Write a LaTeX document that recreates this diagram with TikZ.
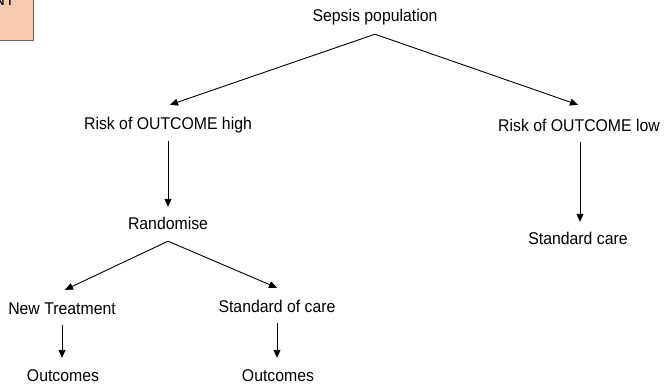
\documentclass[tikz,border=0pt]{standalone}
\usepackage{fontspec}
\setmainfont[FakeStretch=0.93]{Liberation Sans}
\usetikzlibrary{arrows.meta}
\definecolor{peach}{HTML}{F8CBAD}
\tikzset{
  lbl/.style={inner sep=0pt, text height=11.5pt, text depth=3.5pt, font=\fontsize{17}{20}\selectfont},
  arr/.style={line width=0.9pt, -{Triangle[length=8pt,width=7pt]}},
}
\begin{document}
\begin{tikzpicture}[x=1pt,y=-1pt]
\useasboundingbox (0,0) rectangle (664,389);
\node[draw=black!60, line width=0.8pt, fill=peach, minimum width=43pt, minimum height=60pt, inner sep=0pt] (box) at (11.5,10) {};
\node[lbl, anchor=base east, text height=, text depth=] (boxtxt) at (15,5) {NT};

\node[lbl] (sepsis) at (375,17) {Sepsis population};
\node[lbl] (high) at (168,125) {Risk of OUTCOME high};
\node[lbl] (low) at (579,127) {Risk of OUTCOME low};
\node[lbl] (rand) at (168,225) {Randomise};
\node[lbl] (stdcare) at (578,240) {Standard care};
\node[lbl] (newt) at (62,310) {New Treatment};
\node[lbl] (soc) at (277,308) {Standard of care};
\node[lbl] (out1) at (63,377) {Outcomes};
\node[lbl] (out2) at (278,377) {Outcomes};

\draw[arr] ([yshift=-9.5pt]sepsis.south) -- ([xshift=2pt,yshift=12.5pt]high.north);
\draw[arr] ([yshift=-9.5pt]sepsis.south) -- ([xshift=-1pt,yshift=14.5pt]low.north);
\draw[arr] ([yshift=-8.5pt]high.south) -- ([yshift=10.5pt]rand.north);
\draw[arr] ([xshift=1pt,yshift=-7.5pt]low.south) -- ([xshift=2pt,yshift=10.5pt]stdcare.north);
\draw[arr] ([yshift=-8.5pt]rand.south) -- ([xshift=3pt,yshift=12.5pt]newt.north);
\draw[arr] ([yshift=-8.5pt]rand.south) -- ([yshift=12.5pt]soc.north);
\draw[arr] ([yshift=-7.5pt]newt.south) -- ([xshift=-1pt,yshift=11.5pt]out1.north);
\draw[arr] ([yshift=-7.5pt]soc.south) -- ([xshift=-1pt,yshift=11.5pt]out2.north);
\end{tikzpicture}
\end{document}
